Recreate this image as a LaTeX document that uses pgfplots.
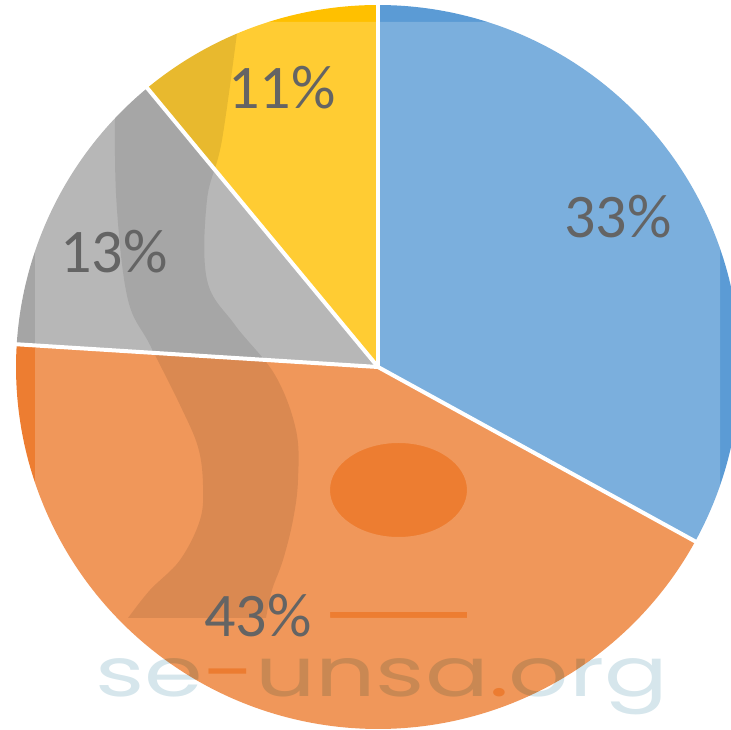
\documentclass[border=0pt]{standalone}
\usepackage{pgfplots}
\usepackage{pgfplotstable}
\pgfplotsset{compat=1.18}
\usepackage{fontspec}
\setmainfont{Carlito}
\newfontfamily\wmfont{Poppins}
\definecolor{cBlue}{HTML}{5B9BD5}
\definecolor{cOrange}{HTML}{ED7D31}
\definecolor{cGray}{HTML}{A5A5A5}
\definecolor{cYellow}{HTML}{FFC000}
\definecolor{cLabel}{RGB}{100,100,100}
\definecolor{cWm}{RGB}{214,230,236}
\definecolor{cWmAcc}{RGB}{251,211,139}
\pgfplotstableread{
name value
Blue 33
Orange 43
Gray 13
Yellow 11
}\piedata
\pgfplotstablegetelem{0}{value}\of\piedata \global\let\vA\pgfplotsretval
\pgfplotstablegetelem{1}{value}\of\piedata \global\let\vB\pgfplotsretval
\pgfplotstablegetelem{2}{value}\of\piedata \global\let\vC\pgfplotsretval
\pgfplotstablegetelem{3}{value}\of\piedata \global\let\vD\pgfplotsretval
\pgfmathsetmacro\aA{90}
\pgfmathsetmacro\aB{\aA-3.6*\vA}
\pgfmathsetmacro\aC{\aB-3.6*\vB}
\pgfmathsetmacro\aD{\aC-3.6*\vC}
\pgfmathsetmacro\aE{\aD-3.6*\vD}
\begin{document}%
\begin{tikzpicture}
\begin{axis}[scale only axis, width=731pt, height=730pt,
  xmin=0, xmax=731, ymin=-730, ymax=0, hide axis, clip=false]
\coordinate (SW) at (axis cs:0,-730);
\coordinate (NE) at (axis cs:731,0);
% slices
\addplot[draw=none, fill=cBlue, domain=\aB:\aA, samples=150, variable=\t]
  ({378+362*cos(t)},{-367+362*sin(t)}) -- (axis cs:378,-367) -- cycle;
\addplot[draw=none, fill=cOrange, domain=\aC:\aB, samples=150, variable=\t]
  ({378+362*cos(t)},{-367+362*sin(t)}) -- (axis cs:378,-367) -- cycle;
\addplot[draw=none, fill=cGray, domain=\aD:\aC, samples=80, variable=\t]
  ({378+362*cos(t)},{-367+362*sin(t)}) -- (axis cs:378,-367) -- cycle;
\addplot[draw=none, fill=cYellow, domain=\aE:\aD, samples=80, variable=\t]
  ({378+362*cos(t)},{-367+362*sin(t)}) -- (axis cs:378,-367) -- cycle;
% light overlay with holes (watermark logo)
\fill[white, opacity=0.2, even odd rule]
  (axis cs:0,0) rectangle (axis cs:731,-730)
  (axis cs:0,0) rectangle (axis cs:731,-22)
  (axis cs:0,-22) rectangle (axis cs:35,-730)
  (axis cs:720,-22) rectangle (axis cs:731,-730)
  (axis cs:398.5,-490) ellipse [x radius=68.5pt, y radius=47pt]
  (axis cs:330,-612) rectangle (axis cs:467,-618);
% crescent of the logo
\begin{scope}
\clip (axis cs:378,-367) circle [radius=362pt];
\fill[black, opacity=0.09]
  plot[smooth, tension=0.6] coordinates {
  (axis cs:240,-10) (axis cs:222,-140) (axis cs:207,-200) (axis cs:207,-280)
  (axis cs:235,-325) (axis cs:275,-375) (axis cs:296,-430) (axis cs:298,-480)
  (axis cs:293,-520) (axis cs:283,-560) (axis cs:272,-590) (axis cs:266,-618)}
  -- plot[smooth, tension=0.6] coordinates {
  (axis cs:128,-618) (axis cs:150,-590) (axis cs:180,-560) (axis cs:200,-520)
  (axis cs:203,-485) (axis cs:198,-447) (axis cs:180,-405) (axis cs:150,-345)
  (axis cs:128,-300) (axis cs:117,-210) (axis cs:115,-120) (axis cs:118,-10)}
  -- cycle;
\end{scope}
% separators
\draw[white, line width=4pt] (axis cs:378,-367) -- ++(90:366pt);
\draw[white, line width=4pt] (axis cs:378,-367) -- ++(-28.8:366pt);
\draw[white, line width=4pt] (axis cs:378,-367) -- ++(-183.6:366pt);
\draw[white, line width=4pt] (axis cs:378,-367) -- ++(-230.4:366pt);
% watermark text
\begin{scope}[blend mode=multiply]
\node[anchor=base west, inner sep=0pt, text=cWm] at (axis cs:95,-697)
  {\resizebox{573pt}{38pt}{\wmfont se\textcolor{cWmAcc}{-}unsa\textcolor{cWmAcc}{.}org}};
\end{scope}
% labels
\node[text=cLabel, font=\fontsize{62}{62}\selectfont] at (axis cs:618,-217) {33\%};
\node[text=cLabel, font=\fontsize{62}{62}\selectfont] at (axis cs:258,-616) {43\%};
\node[text=cLabel, font=\fontsize{62}{62}\selectfont] at (axis cs:114,-252) {13\%};
\node[text=cLabel, font=\fontsize{62}{62}\selectfont] at (axis cs:282,-88) {11\%};
\end{axis}
\pgfresetboundingbox
\useasboundingbox (SW) rectangle (NE);
\end{tikzpicture}%
\end{document}
